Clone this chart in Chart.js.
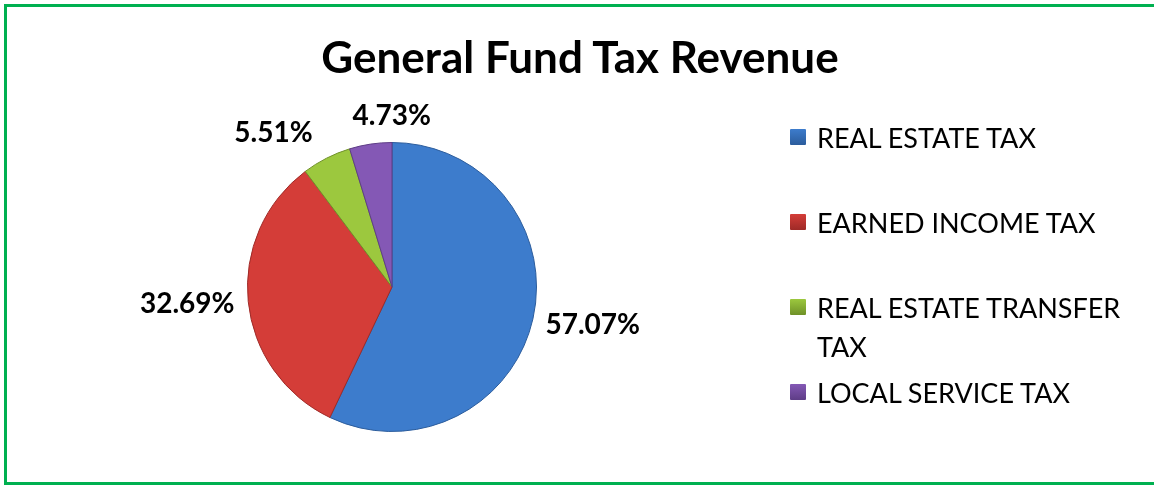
<!DOCTYPE html>
<html>
<head>
<meta charset="utf-8">
<script src="https://cdn.jsdelivr.net/npm/chart.js@4"></script>
<style>
  html, body { margin: 0; padding: 0; background: #fff; }
  body { width: 1154px; height: 485px; position: relative; overflow: hidden; font-family: Lato, "Open Sans", sans-serif; }
  .frame { position: absolute; left: 4px; top: 4px; width: 1250px; height: 481px; border: 3px solid #00B050; box-sizing: border-box; }
  .title { position: absolute; left: 0; width: 1160px; top: 30px; text-align: center; font-weight: bold; font-size: 44px; line-height: 1.2; color: #000; }
  #wrap { position: absolute; left: 0; top: 0; width: 1154px; height: 485px; }
  .legend { position: absolute; left: 790px; top: 118px; }
  .legend .item { display: flex; align-items: flex-start; height: 85px; font-size: 27px; line-height: 39px; color: #000; }
  .legend .box { width: 16px; height: 16px; margin-top: 11px; margin-right: 11px; flex: none; border-radius: 1px; }
  .legend .txt { width: 325px; }
</style>
</head>
<body>
<div id="wrap"><canvas id="pie"></canvas></div>
<div class="frame"></div>
<div class="title">General Fund Tax Revenue</div>
<div class="legend" id="legend"></div>
<script>
// Dữ liệu
const categories = ["REAL ESTATE TAX", "EARNED INCOME TAX", "REAL ESTATE TRANSFER TAX", "LOCAL SERVICE TAX"];
const shares = [57.07, 32.69, 5.51, 4.73];
const labels = ["57.07%", "32.69%", "5.51%", "4.73%"];
const colors = ["#3d7ccc", "#d43d38", "#9cc83e", "#8458b5"];
const edgeColors = ["#2b5c9c", "#9e2a27", "#6f9128", "#5e3d86"];

// Legend HTML
const legend = document.getElementById("legend");
categories.forEach((c, i) => {
    const div = document.createElement("div");
    div.className = "item";
    div.innerHTML = `<span class="box" style="background:linear-gradient(${colors[i]}, ${edgeColors[i]})"></span><span class="txt">${c}</span>`;
    legend.appendChild(div);
});

// Nhãn phần trăm bên ngoài (kiểu "best fit" của Excel)
const outLabels = {
    id: "outLabels",
    afterDatasetsDraw(chart) {
        const ctx = chart.ctx;
        const arcs = chart.getDatasetMeta(0).data;
        ctx.save();
        ctx.font = "bold 28px Lato, 'Open Sans', sans-serif";
        ctx.fillStyle = "#000";
        ctx.textAlign = "center";
        ctx.textBaseline = "middle";
        const h = 28;
        const pos = arcs.map((a, i) => {
            const mid = (a.startAngle + a.endAngle) / 2;
            const cx = Math.cos(mid), cy = Math.sin(mid);
            const w = ctx.measureText(labels[i]).width;
            const r = a.outerRadius + 14;
            return { x: a.x + cx * r + cx * w / 2, y: a.y + cy * r + cy * 14, w: w };
        });
        // đẩy các nhãn chồng lên nhau ra xa
        for (let i = 0; i < pos.length; i++) {
            for (let j = i + 1; j < pos.length; j++) {
                const p = pos[i], q = pos[j];
                if (Math.abs(p.y - q.y) >= h) continue;
                const need = (p.w + q.w) / 2 + 40;
                const d = Math.abs(p.x - q.x);
                if (d < need) {
                    const s = (need - d) / 2;
                    if (p.x < q.x) { p.x -= s; q.x += s; } else { p.x += s; q.x -= s; }
                }
            }
        }
        pos.forEach((p, i) => ctx.fillText(labels[i], p.x, p.y));
        ctx.restore();
    }
};

// Đổ bóng gradient cho từng lát
function sliceFill(context) {
    const chart = context.chart;
    const a = chart.getDatasetMeta(0).data[context.dataIndex];
    if (!a || !a.outerRadius) return colors[context.dataIndex];
    const g = chart.ctx.createRadialGradient(a.x, a.y, 0, a.x, a.y, a.outerRadius);
    g.addColorStop(0, colors[context.dataIndex]);
    g.addColorStop(0.88, colors[context.dataIndex]);
    g.addColorStop(1, edgeColors[context.dataIndex]);
    return g;
}

new Chart(document.getElementById("pie"), {
    type: "pie",
    data: {
        labels: categories,
        datasets: [{
            data: shares,
            backgroundColor: sliceFill,
            borderColor: edgeColors,
            borderWidth: 1
        }]
    },
    options: {
        responsive: true,
        maintainAspectRatio: false,
        animation: false,
        layout: { padding: { left: 247, right: 617, top: 142, bottom: 53 } },
        plugins: {
            legend: { display: false },
            tooltip: { enabled: false }
        }
    },
    plugins: [outLabels]
});
</script>
</body>
</html>
